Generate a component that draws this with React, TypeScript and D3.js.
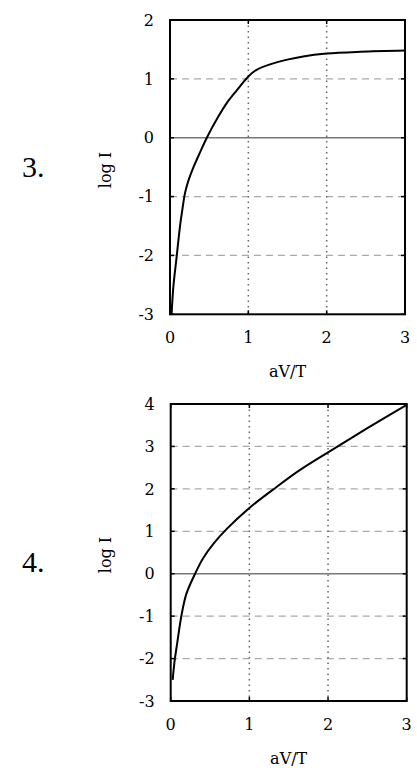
import React from "react";
import * as d3 from "d3";

const xTicks = [0, 1, 2, 3];
const chart3YTicks = [-3, -2, -1, 0, 1, 2];
const chart4YTicks = [-3, -2, -1, 0, 1, 2, 3, 4];

const chart3X = [0.02, 0.043, 0.085, 0.128, 0.16, 0.19, 0.23, 0.3, 0.383, 0.47, 0.617, 0.72, 0.85, 1.0, 1.1, 1.36, 1.7, 2.0, 2.43, 3.0];
const chart3Y = [-3.0, -2.53, -2.02, -1.5, -1.2, -0.95, -0.75, -0.5, -0.25, 0.0, 0.36, 0.58, 0.8, 1.04, 1.15, 1.28, 1.38, 1.43, 1.46, 1.48];

const chart4X = [0.025, 0.05, 0.076, 0.14, 0.2, 0.31, 0.41, 0.55, 0.71, 1.0, 1.35, 1.64, 2.0, 2.5, 3.0];
const chart4Y = [-2.5, -2.05, -1.72, -0.95, -0.47, 0.0, 0.36, 0.72, 1.05, 1.55, 2.05, 2.44, 2.86, 3.43, 3.98];

const FONT = "DejaVu Serif";

type PanelProps = {
  label: string;
  left: number;
  right: number;
  top: number;
  bottom: number;
  yDomain: [number, number];
  yTicks: number[];
  xs: number[];
  ys: number[];
  labelY: number;
  logY: number;
};

function Panel(p: PanelProps) {
  const x = d3.scaleLinear().domain([0, 3]).range([p.left, p.right]);
  const y = d3.scaleLinear().domain(p.yDomain).range([p.bottom, p.top]);
  const pts = p.xs.map((v, i) => [v, p.ys[i]] as [number, number]);
  const line = d3
    .line<[number, number]>()
    .x((d) => x(d[0]))
    .y((d) => y(d[1]))
    .curve(d3.curveCatmullRom.alpha(0.5));
  const tickLen = 4;
  return (
    <g>
      {p.yTicks
        .filter((t) => t !== 0 && t !== p.yDomain[0] && t !== p.yDomain[1])
        .map((t) => (
          <line
            key={"hg" + t}
            x1={p.left}
            x2={p.right}
            y1={y(t)}
            y2={y(t)}
            stroke="#aaa"
            strokeWidth={1.2}
            strokeDasharray="7,5"
          />
        ))}
      <line x1={p.left} x2={p.right} y1={y(0)} y2={y(0)} stroke="#777" strokeWidth={1.5} />
      {xTicks
        .filter((t) => t !== 0 && t !== 3)
        .map((t) => (
          <line
            key={"vg" + t}
            x1={x(t)}
            x2={x(t)}
            y1={p.top}
            y2={p.bottom}
            stroke="#666"
            strokeWidth={1.5}
            strokeDasharray="1.5,4"
          />
        ))}
      {p.yTicks.map((t) => (
        <g key={"yt" + t}>
          <line x1={p.left} x2={p.left + tickLen} y1={y(t)} y2={y(t)} stroke="#000" strokeWidth={1.5} />
          <line x1={p.right} x2={p.right - tickLen} y1={y(t)} y2={y(t)} stroke="#000" strokeWidth={1.5} />
          <text x={p.left - 16} y={y(t)} dy="0.36em" textAnchor="end" fontFamily={FONT} fontSize={16}>
            {t}
          </text>
        </g>
      ))}
      {xTicks.map((t) => (
        <g key={"xt" + t}>
          <line x1={x(t)} x2={x(t)} y1={p.bottom} y2={p.bottom - tickLen} stroke="#000" strokeWidth={1.5} />
          <line x1={x(t)} x2={x(t)} y1={p.top} y2={p.top + tickLen} stroke="#000" strokeWidth={1.5} />
          <text x={x(t)} y={p.bottom + 29} textAnchor="middle" fontFamily={FONT} fontSize={16}>
            {t}
          </text>
        </g>
      ))}
      <path d={line(pts) || ""} fill="none" stroke="#000" strokeWidth={2} />
      <rect
        x={p.left}
        y={p.top}
        width={p.right - p.left}
        height={p.bottom - p.top}
        fill="none"
        stroke="#000"
        strokeWidth={2}
      />
      <text
        x={(p.left + p.right) / 2}
        y={p.bottom + 63}
        textAnchor="middle"
        fontFamily={FONT}
        fontSize={16}
      >
        aV/T
      </text>
      <text
        transform={`translate(111,${p.logY}) rotate(-90)`}
        textAnchor="middle"
        fontFamily={FONT}
        fontSize={16}
      >
        log I
      </text>
      <text x={22} y={p.labelY} fontFamily="Liberation Serif" fontSize={30}>
        {p.label}
      </text>
    </g>
  );
}

export default function App() {
  return (
    <svg
      width={417}
      height={773}
      style={{ position: "absolute", left: 0, top: 0, background: "#fff" }}
    >
      <rect width={417} height={773} fill="#fff" />
      <Panel
        label="3."
        left={170}
        right={405}
        top={20}
        bottom={314.3}
        yDomain={[-3, 2]}
        yTicks={chart3YTicks}
        xs={chart3X}
        ys={chart3Y}
        labelY={177}
        logY={170}
      />
      <Panel
        label="4."
        left={170.7}
        right={406.7}
        top={404}
        bottom={701}
        yDomain={[-3, 4]}
        yTicks={chart4YTicks}
        xs={chart4X}
        ys={chart4Y}
        labelY={572}
        logY={555}
      />
    </svg>
  );
}
